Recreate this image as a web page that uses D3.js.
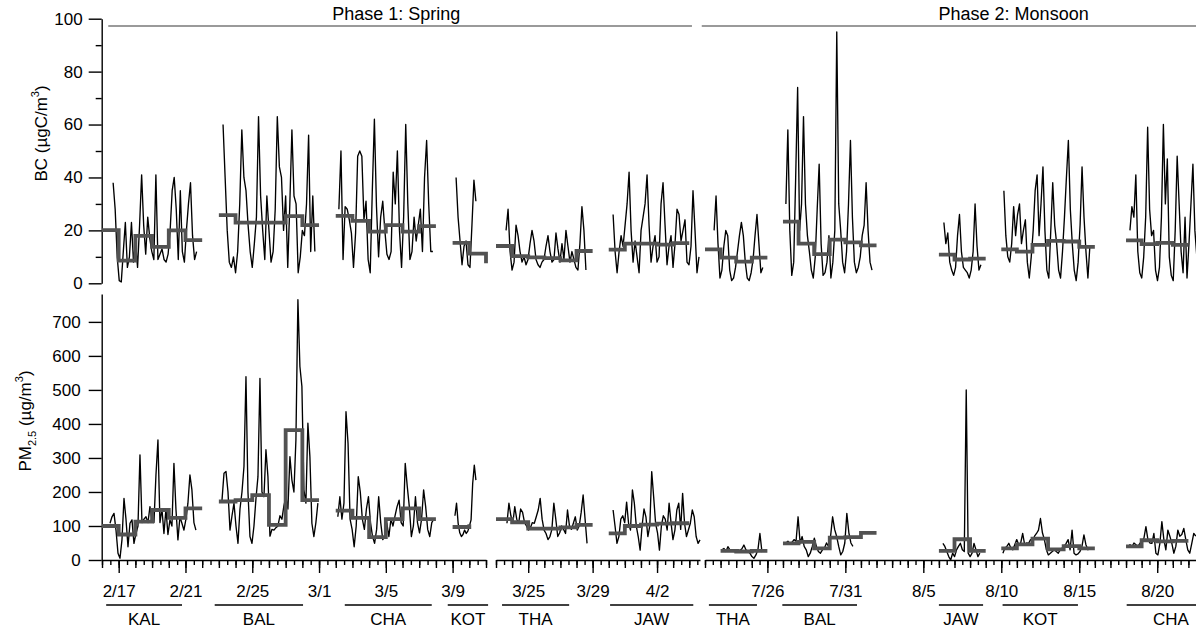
<!DOCTYPE html>
<html><head><meta charset="utf-8">
<script src="https://cdn.jsdelivr.net/npm/d3@7"></script>
<style>
body{margin:0;background:#fff}
text{font-family:"Liberation Sans",Arial,sans-serif;fill:#000}
</style></head>
<body><svg id="c" width="1196" height="632"></svg>
<script>
// ---------------- DATA ----------------
const segDomains = [["2018-02-16","2018-03-11"],["2018-03-23","2018-04-04T16:00"],["2018-07-22","2018-08-23"]];
const tickLabels = [["2/17","2/21","2/25","3/1","3/5","3/9"],["3/25","3/29","4/2"],["7/26","7/31","8/5","8/10","8/15","8/20"]];
const phases = ["Phase 1: Spring","Phase 2: Monsoon"];
const phaseSpans = [["2018-02-16T09:00","2018-04-04T04:00"],["2018-07-21T19:00","2018-08-31"]];
const phaseLabelAt = ["2018-03-05T15:00","2018-08-10T19:00"];

const sites = ["KAL","BAL","CHA","KOT","THA","JAW","THA","BAL","JAW","KOT","CHA"];
const siteBars = [["2018-02-16T06:00","2018-02-20T19:00"],["2018-02-22T18:00","2018-02-28T01:00"],["2018-03-02T13:00","2018-03-07T18:00"],["2018-03-08T17:00","2018-03-11T03:00"],
  ["2018-03-23T09:00","2018-03-27T13:00"],["2018-03-30T02:00","2018-04-04T06:00"],
  ["2018-07-22T06:00","2018-07-25T08:00"],["2018-07-26T23:00","2018-07-31T18:00"],["2018-08-06T00:00","2018-08-08T20:00"],["2018-08-10T02:00","2018-08-14T22:00"],["2018-08-18T01:00","2018-08-23T17:00"]];

const bcTicks = [0,20,40,60,80,100];
const bcMinorTicks = [10,30,50,70,90];
const pmTicks = [0,100,200,300,400,500,600,700];

// daily means (step lines)
const bcMeanStart = ["2018-02-16","2018-02-23","2018-03-02","2018-03-09","2018-03-23","2018-03-30","2018-07-22","2018-07-27","2018-08-06","2018-08-10","2018-08-18"];
const bcMeans = [[20.1,8.6,17.9,13.8,20.0,16.3],[25.8,22.9,22.9,22.9,25.4,22.0],[25.5,23.6,19.5,22.0,19.5,21.6],[15.3,11.2],
  [14.1,10.3,9.8,9.5,8.7,12.2],[12.7,15.0,15.0,14.6,15.2],
  [12.8,9.7,8.2,9.7],[23.3,15.0,11.0,16.5,15.5,14.3],[10.8,9.0,9.3],[12.8,12.0,14.5,16.0,15.8,13.8],[16.2,14.8,15.3,14.5]];
const bcMeanEnd = [null,null,null,7.6,null,null,null,null,null,null,null];

const pmMeanStart = ["2018-02-16","2018-02-23","2018-03-02","2018-03-09","2018-03-23","2018-03-30","2018-07-23","2018-07-27","2018-08-06","2018-08-10","2018-08-18"];
const pmMeans = [[100,75,113,147,124,152],[172,176,191,103,382,176],[145,124,67,120,152,120],[97],
  [120,111,92,92,96,103],[78,100,104,107,108],
  [27,25,27],[49,53,34,66,67,80],[27,61,27],[34,46,63,31,41,34],[40,58,55,56]];
const pmMeanEnd = [null,null,null,105,null,null,null,null,null,null,null];

// hourly-resolution records (evenly spaced between span start and end)
const bcSpans = [["2018-02-16T16:00","2018-02-21T16:00"],["2018-02-23T06:00","2018-02-28T18:00"],["2018-03-02T04:30","2018-03-07T19:40"],["2018-03-09T05:00","2018-03-10T09:30"],
  ["2018-03-23T15:00","2018-03-28T14:00"],["2018-03-30T06:30","2018-04-04T14:30"],
  ["2018-07-22T14:00","2018-07-25T17:00"],["2018-07-27T04:30","2018-08-01T17:00"],["2018-08-06T07:40","2018-08-08T16:40"],["2018-08-10T04:00","2018-08-15T16:20"],["2018-08-18T06:00","2018-08-22T13:00"]];
const bcHourly = [
 [38,28,10,1,0.5,12,23,6,10,23,8,16,6,22,41,22,11,25,17,12,9,41,9,11,13,9,8,11,20,35,40,28,9,35,12,8,20,30,38,18,9,12],
 [60,40,20,8,6,10,4,12,30,58,40,35,22,12,6,15,25,63,33,20,9,33,20,8,12,28,63,44,40,20,33,6,30,58,33,30,4,10,20,18,30,56,12,33,12],
 [28,50,9,29,28,24,19,6,19,48,50,48,24,31,9,4,35,62,29,10,25,31,20,11,9,12,42,30,50,20,6,25,60,30,9,12,25,16,22,28,12,40,54,30,12,12],
 [40,25,16,7,14,16,7,6,22,39,31],
 [20,28,12,5,8,22,18,12,8,10,7,9,15,20,16,9,7,6,8,9,14,18,12,8,9,19,13,8,15,9,20,14,8,12,9,6,5,15,29,20,5],
 [26,12,4,12,18,14,22,30,42,20,8,16,10,4,20,25,30,41,22,8,14,18,8,10,30,38,22,7,14,18,6,15,28,26,16,20,24,8,7,14,35,20,4,10],
 [20,33,15,2,5,14,20,18,5,1,2,6,12,18,23,18,8,2,1,4,9,18,26,15,4,6],
 [30,58,20,3,8,40,74,20,30,63,30,18,12,5,2,10,28,45,15,3,4,8,18,2,8,20,95,30,20,8,4,12,30,54,25,8,4,6,10,18,22,38,20,8,5],
 [23,15,19,8,5,3,6,18,26,12,6,5,4,2,5,12,30,14,5,7],
 [35,18,10,8,15,29,18,26,30,15,20,24,8,2,10,20,35,41,18,30,44,20,5,2,20,38,22,15,5,2,12,25,40,54,28,15,5,1,8,22,44,25,12,2,14],
 [20,29,25,41,12,4,2,10,25,59,28,18,20,5,1,6,25,60,30,47,10,3,1,20,48,30,12,4,25,2,15,30,45,20,10]
];
const pmSpans = [["2018-02-16T11:30","2018-02-21T15:00"],["2018-02-23T04:30","2018-02-28T22:20"],["2018-03-02T03:00","2018-03-07T21:00"],["2018-03-09T03:20","2018-03-10T09:30"],
  ["2018-03-23T16:20","2018-03-28T15:40"],["2018-03-30T06:30","2018-04-04T16:00"],
  ["2018-07-23T02:00","2018-07-25T18:40"],["2018-07-27T04:30","2018-07-31T11:40"],["2018-08-06T06:10","2018-08-08T15:00"],["2018-08-10T02:30","2018-08-15T16:20"],["2018-08-18T03:00","2018-08-22T11:20"]];
const pmHourly = [
 [108,127,137,88,20,5,60,181,120,39,108,118,49,78,100,309,110,120,127,110,157,120,110,250,353,110,150,78,150,75,118,100,284,150,59,127,108,88,120,167,250,206,110,88],
 [176,255,260,200,88,130,167,100,49,150,200,275,539,200,69,49,100,180,245,534,200,186,324,245,70,90,88,95,100,130,120,160,186,150,304,235,200,353,765,569,510,206,167,402,304,108,69,110,167],
 [127,186,120,167,436,343,120,90,39,100,245,200,120,90,150,186,110,69,49,90,186,110,60,69,108,69,120,100,130,157,176,110,100,284,216,157,69,100,186,110,80,120,206,157,90,69,110,120],
 [130,167,108,80,69,75,88,78,85,100,118,225,279,235],
 [108,167,130,108,157,120,108,150,140,110,100,88,95,110,108,127,147,181,120,88,78,60,69,90,167,120,69,80,100,90,78,147,100,90,108,127,88,100,140,191,120,49],
 [147,100,49,69,120,130,110,170,108,88,206,167,100,69,29,100,150,127,69,100,260,186,108,80,29,100,130,120,88,167,110,60,88,147,167,90,196,108,69,88,108,147,127,69,49,59],
 [30,34,25,39,30,28,25,27,30,28,33,44,30,26,20,10,5,15,30,78,25,28],
 [50,55,48,52,60,55,127,50,69,40,30,10,20,40,64,40,25,20,30,35,50,40,70,127,90,69,40,15,25,50,137,80,50,40],
 [49,40,25,10,0,20,10,30,40,49,30,25,500,20,10,20,49,30,10,20],
 [20,35,40,49,35,30,45,60,45,50,78,45,50,49,60,55,70,78,88,122,80,60,30,15,20,25,30,25,20,30,35,40,49,60,30,88,20,15,18,25,40,74,45,30,35],
 [40,45,39,50,45,40,49,55,64,98,60,50,49,78,20,15,49,113,60,30,88,70,49,20,40,88,70,75,93,60,30,20,49,78,70]
];

// ---------------- DRAW ----------------
const T = s => new Date(s + (s.length === 10 ? "T00:00Z" : "Z"));
const DAY = 864e5;
const svg = d3.select("#c");
const FS = 17;

const segRanges = [[102,486],[496,700],[705,1204]];
const xs = segDomains.map((d,i) => d3.scaleUtc().domain(d.map(T)).range(segRanges[i]));
function xOf(date){
  const t = +date; let k = 0;
  xs.forEach((s,i) => { if (t >= +s.domain()[0] - 2*DAY) k = i; });
  return xs[k](date);
}
const yBC = d3.scaleLinear().domain([0,100]).range([283.3,18.7]);
const yPM = d3.scaleLinear().domain([0,782]).range([560,294]);

// Y axes
const gBC = svg.append("g").attr("transform","translate(101.7,0)");
gBC.call(d3.axisLeft(yBC).tickValues(bcTicks).tickSize(13).tickSizeOuter(0).tickPadding(6));
gBC.append("g").call(d3.axisLeft(yBC).tickValues(bcMinorTicks).tickSize(6).tickFormat("")).select(".domain").remove();
const gPM = svg.append("g").attr("transform","translate(101.7,0)");
gPM.call(d3.axisLeft(yPM).tickValues(pmTicks).tickSize(13).tickSizeOuter(0).tickPadding(8));

// X axes (broken)
const md = s => { const [m,d] = s.split("/").map(Number); return new Date(Date.UTC(2018, m-1, d)); };
xs.forEach((sc,i) => {
  const [a,b] = sc.domain();
  const g = svg.append("g").attr("transform","translate(0,560)");
  g.call(d3.axisBottom(sc).tickValues(d3.utcHour.every(12).range(a, new Date(+b+1))).tickSize(5).tickSizeOuter(0).tickFormat(""));
  const g2 = svg.append("g").attr("transform","translate(0,560)");
  g2.call(d3.axisBottom(sc).tickValues(d3.utcDay.range(a, new Date(+b+1))).tickSize(8).tickFormat(""));
  g2.select(".domain").remove();
  const g3 = svg.append("g").attr("transform","translate(0,560)");
  g3.call(d3.axisBottom(sc).tickValues(tickLabels[i].map(md)).tickSize(13).tickPadding(12).tickFormat(d => (d.getUTCMonth()+1)+"/"+d.getUTCDate()));
  g3.select(".domain").remove();
});
svg.selectAll(".tick text").attr("font-size",FS).attr("font-family","Liberation Sans, Arial, sans-serif");
svg.selectAll(".domain, .tick line").attr("stroke","#000").attr("stroke-width",1.4);

// Site bars and labels
sites.forEach((s,i) => {
  const x1 = xOf(T(siteBars[i][0])), x2 = xOf(T(siteBars[i][1]));
  svg.append("line").attr("x1",x1).attr("x2",x2).attr("y1",605).attr("y2",605).attr("stroke","#000").attr("stroke-width",1.4);
  svg.append("text").attr("x",(x1+x2)/2).attr("y",625).attr("text-anchor","middle").attr("font-size",FS).text(s);
});

// Phase annotations
phases.forEach((p,i) => {
  svg.append("line").attr("x1",xOf(T(phaseSpans[i][0]))).attr("x2",xOf(T(phaseSpans[i][1])))
    .attr("y1",26).attr("y2",26).attr("stroke","#9a9a9a").attr("stroke-width",1.8);
  svg.append("text").attr("x",xOf(T(phaseLabelAt[i]))).attr("y",20).attr("text-anchor","middle").attr("font-size",18).text(p);
});

// Axis titles
const tBC = svg.append("text").attr("transform","translate(47,133.5) rotate(-90)").attr("text-anchor","middle").attr("font-size",FS);
tBC.append("tspan").text("BC (\u00b5gC/m");
tBC.append("tspan").attr("font-size",11).attr("dy",-8).text("3");
tBC.append("tspan").attr("dy",8).text(")");
const tPM = svg.append("text").attr("transform","translate(31,421) rotate(-90)").attr("text-anchor","middle").attr("font-size",FS);
tPM.append("tspan").text("PM");
tPM.append("tspan").attr("font-size",11).attr("dy",5).text("2.5");
tPM.append("tspan").attr("dy",-5).text(" (\u00b5g/m");
tPM.append("tspan").attr("font-size",11).attr("dy",-8).text("3");
tPM.append("tspan").attr("dy",8).text(")");

// Series
function hourlyPts(span, vals){
  const a = +T(span[0]), b = +T(span[1]), n = vals.length;
  return vals.map((v,i) => [new Date(a + (b-a)*i/(n-1)), v]);
}
function meanPts(start, vals, end){
  const a = +T(start);
  const pts = vals.map((v,i) => [new Date(a + i*DAY), v]);
  pts.push([new Date(a + vals.length*DAY), end == null ? vals[vals.length-1] : end]);
  return pts;
}
const gLines = svg.append("g");
function drawPanel(y, spans, hourly, mStart, means, mEnd){
  const lh = d3.line().x(d => xOf(d[0])).y(d => y(d[1]));
  const ls = d3.line().x(d => xOf(d[0])).y(d => y(d[1])).curve(d3.curveStepAfter);
  hourly.forEach((vals,i) => {
    gLines.append("path").attr("d", lh(hourlyPts(spans[i], vals)))
      .attr("fill","none").attr("stroke","#000").attr("stroke-width",1.35).attr("stroke-linejoin","round");
  });
  means.forEach((vals,i) => {
    gLines.append("path").attr("d", ls(meanPts(mStart[i], vals, mEnd[i])))
      .attr("fill","none").attr("stroke","#525252").attr("stroke-width",3.8);
  });
}
drawPanel(yBC, bcSpans, bcHourly, bcMeanStart, bcMeans, bcMeanEnd);
drawPanel(yPM, pmSpans, pmHourly, pmMeanStart, pmMeans, pmMeanEnd);
</script>
</body></html>
